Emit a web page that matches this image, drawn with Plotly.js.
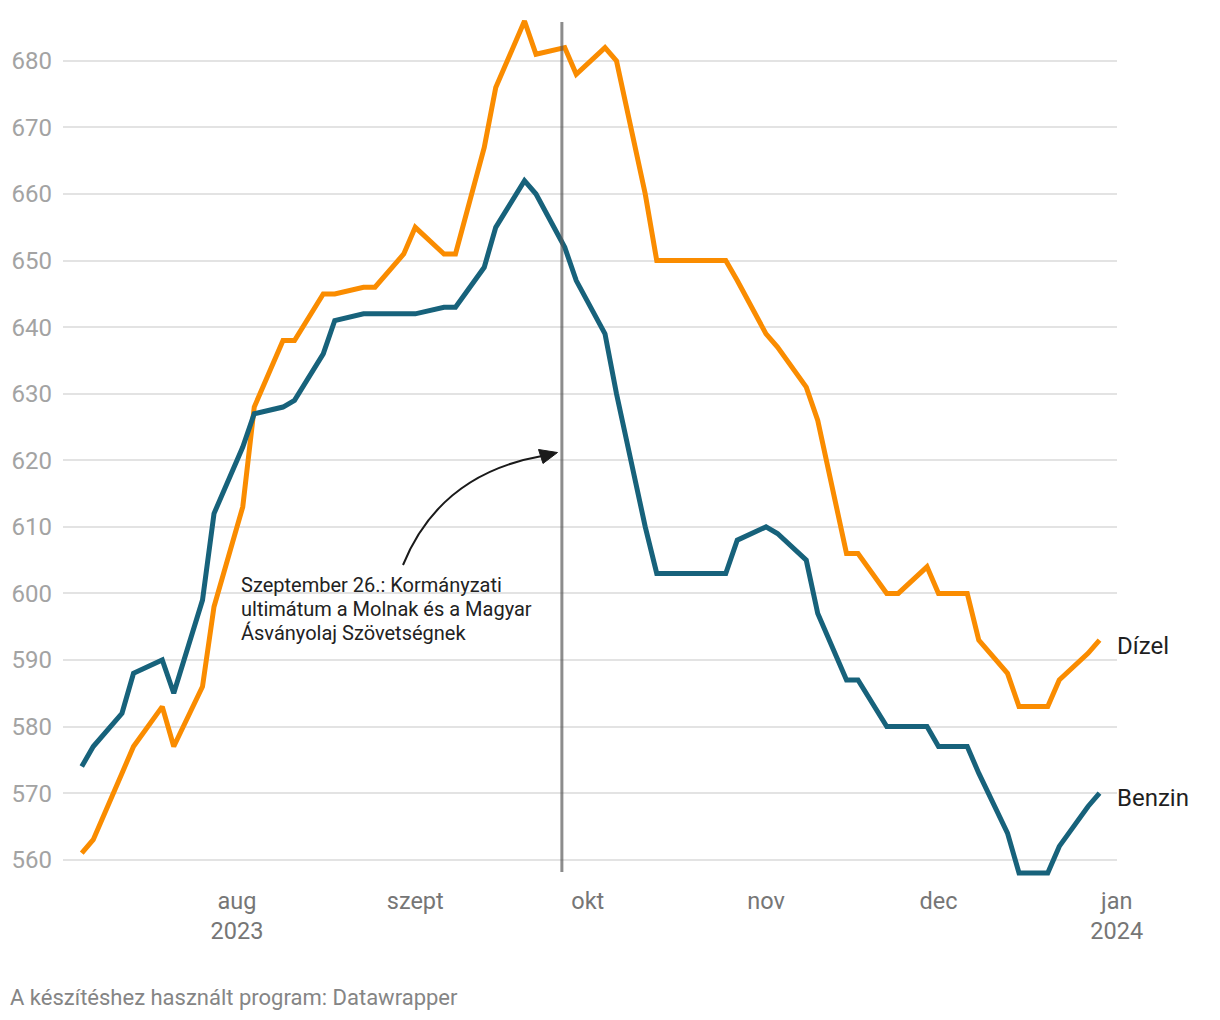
<!DOCTYPE html>
<html>
<head>
<meta charset="utf-8">
<script src="https://cdn.plot.ly/plotly-3.0.1.min.js"></script>
<style>
html,body{margin:0;padding:0;background:#fff;}
#chart{width:1220px;height:1020px;}
</style>
</head>
<body>
<div id="chart"></div>
<script>
// ---- data ----
const dates = [
  '2023-07-05','2023-07-07','2023-07-12','2023-07-14','2023-07-19','2023-07-21','2023-07-26','2023-07-28',
  '2023-08-02','2023-08-04','2023-08-09','2023-08-11','2023-08-16','2023-08-18','2023-08-23','2023-08-25','2023-08-30',
  '2023-09-01','2023-09-06','2023-09-08','2023-09-13','2023-09-15','2023-09-20','2023-09-22','2023-09-27','2023-09-29',
  '2023-10-04','2023-10-06','2023-10-11','2023-10-13','2023-10-18','2023-10-20','2023-10-25','2023-10-27',
  '2023-11-01','2023-11-03','2023-11-08','2023-11-10','2023-11-15','2023-11-17','2023-11-22','2023-11-24','2023-11-29',
  '2023-12-01','2023-12-06','2023-12-08','2023-12-13','2023-12-15','2023-12-20','2023-12-22','2023-12-27','2023-12-29'
];
const benzin = [
  574,577,582,588,590,585,599,612,
  622,627,628,629,636,641,642,642,642,
  642,643,643,649,655,662,660,652,647,
  639,630,610,603,603,603,603,608,
  610,609,605,597,587,587,580,580,580,
  577,577,573,564,558,558,562,568,570
];
const dizel = [
  561,563,573,577,583,577,586,598,
  613,628,638,638,645,645,646,646,651,
  655,651,651,667,676,686,681,682,678,
  682,680,660,650,650,650,650,647,
  639,637,631,626,606,606,600,600,604,
  600,600,593,588,583,583,587,591,593
];
const seriesNames = ['Dízel','Benzin'];
const eventDate = '2023-09-26 12:00';
const eventText = ['Szeptember 26.: Kormányzati','ultimátum a Molnak és a Magyar','Ásványolaj Szövetségnek'];
const xTickVals = ['2023-08-01','2023-09-01','2023-10-01','2023-11-01','2023-12-01','2024-01-01'];
const xTickText = ['aug<br>2023','szept','okt','nov','dec','jan<br>2024'];
const yTickVals = [560,570,580,590,600,610,620,630,640,650,660,670,680];
const footer = 'A készítéshez használt program: Datawrapper';

// ---- layout geometry ----
const W = 1220, H = 1020;
const M = {l:63, r:103, t:11, b:137};
const PW = W - M.l - M.r, PH = H - M.t - M.b;
const px = x => (x - M.l) / PW;
const py = y => (H - M.b - y) / PH;

const orange = '#fa8c00';
const teal = '#17627b';
const FONT = 'Roboto, "Noto Sans", sans-serif';

const traces = [
  {x: dates, y: dizel, name: seriesNames[0], type:'scatter', mode:'lines',
   line:{color:orange, width:5}, hoverinfo:'x+y'},
  {x: dates, y: benzin, name: seriesNames[1], type:'scatter', mode:'lines',
   line:{color:teal, width:5}, hoverinfo:'x+y'}
];

const last = dates.length - 1;
const annotations = [
  {x: dates[last], y: dizel[last], xref:'x', yref:'y', text: seriesNames[0], showarrow:false,
   xanchor:'left', yanchor:'middle', xshift:15, yshift:-6, font:{family:FONT, size:24, color:'#1f1f1f'}},
  {x: dates[last], y: benzin[last], xref:'x', yref:'y', text: seriesNames[1], showarrow:false,
   xanchor:'left', yanchor:'middle', xshift:15, yshift:-5, font:{family:FONT, size:24, color:'#1f1f1f'}},
  {x: 0, y: 0, xref:'paper', yref:'paper', xanchor:'left', yanchor:'middle',
   xshift: 8 - M.l, yshift: -(997 - (H - M.b)), text: footer, showarrow:false,
   font:{family:FONT, size:22, color:'#858585'}}
];
const lineY = [585, 609, 633];
eventText.forEach((t,i) => {
  annotations.push({x: px(241), y: py(lineY[i]), xref:'paper', yref:'paper', text:t, showarrow:false,
    xanchor:'left', yanchor:'middle', xshift:-2, font:{family:FONT, size:20, color:'#222'}});
});

// curved arrow (decorative), in paper coordinates
const P = (x,y) => px(x).toFixed(5) + ',' + py(y).toFixed(5);
const shapes = [
  {type:'line', xref:'x', yref:'paper', x0:eventDate, x1:eventDate, y0:py(872), y1:py(22),
   line:{color:'rgba(85,85,85,0.68)', width:3}, layer:'above'},
  {type:'path', xref:'paper', yref:'paper',
   path:'M' + P(403,565) + ' Q' + P(440,474) + ' ' + P(542,456),
   line:{color:'#1a1a1a', width:2}, layer:'above'},
  {type:'path', xref:'paper', yref:'paper',
   path:'M' + P(557.5,452.5) + ' L' + P(538.5,449.5) + ' L' + P(543,463.5) + ' Z',
   line:{color:'#1a1a1a', width:1}, fillcolor:'#1a1a1a', layer:'above'}
];

const layout = {
  width: W, height: H,
  margin: M,
  paper_bgcolor:'#fff', plot_bgcolor:'#fff',
  showlegend:false,
  font:{family:FONT},
  xaxis:{
    type:'date',
    range:['2023-07-01 17:45','2024-01-01 01:00'],
    tickvals: xTickVals, ticktext: xTickText,
    showgrid:false, zeroline:false, showline:false, ticks:'',
    tickfont:{family:FONT, size:23.5, color:'#767676'},
    ticklabelstandoff: 1
  },
  yaxis:{
    range:[556.5, 687.5],
    tickvals: yTickVals,
    showgrid:true, gridcolor:'#e3e3e3', gridwidth:2,
    zeroline:false, showline:false, ticks:'',
    tickfont:{family:FONT, size:24, color:'#a3a3a3'},
    ticklabelstandoff: 10
  },
  annotations: annotations,
  shapes: shapes
};

Plotly.newPlot('chart', traces, layout, {displayModeBar:false, staticPlot:true});
</script>
</body>
</html>
